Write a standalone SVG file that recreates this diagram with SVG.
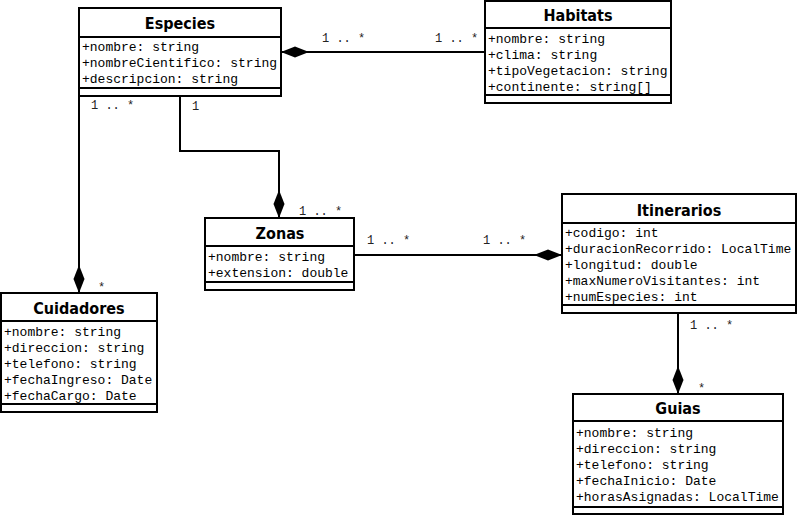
<svg xmlns="http://www.w3.org/2000/svg" width="797" height="516" viewBox="0 0 797 516">
  <style>
    .box { fill: #fff; stroke: #000; stroke-width: 2; }
    .sep { stroke: #000; stroke-width: 2; }
    .title { font-family: "DejaVu Sans Condensed", "DejaVu Sans", sans-serif; font-stretch: condensed; font-weight: bold; font-size: 16px; text-anchor: middle; fill: #000; }
    .attr { font-family: "Liberation Mono", "DejaVu Sans Mono", monospace; font-size: 13px; fill: #000; }
    .mult { font-family: "Liberation Mono", "DejaVu Sans Mono", monospace; font-size: 12px; fill: #222; }
    .link { fill: none; stroke: #000; stroke-width: 2; }
  </style>
  <defs>
    <!-- filled diamond for composition ends -->
    <marker id="diamond" markerUnits="userSpaceOnUse" markerWidth="30" markerHeight="14" refX="29" refY="7" orient="auto">
      <path d="M1,7 L15,1.5 L29,7 L15,12.5 Z" fill="#000"/>
    </marker>
  </defs>

  <g id="connectors">
    <path class="link" d="M485,52 H281" marker-end="url(#diamond)"/>
    <path class="link" d="M79,96 V293" marker-end="url(#diamond)"/>
    <path class="link" d="M180,96 V151 H279 V218" marker-end="url(#diamond)"/>
    <path class="link" d="M354,255 H562" marker-end="url(#diamond)"/>
    <path class="link" d="M678,313 V394" marker-end="url(#diamond)"/>

    <text class="mult" x="322" y="42">1 .. *</text>
    <text class="mult" x="435" y="42">1 .. *</text>
    <text class="mult" x="91" y="109">1 .. *</text>
    <text class="mult" x="192" y="110">1</text>
    <text class="mult" x="299" y="215">1 .. *</text>
    <text class="mult" x="98" y="291">*</text>
    <text class="mult" x="367" y="244">1 .. *</text>
    <text class="mult" x="483" y="244">1 .. *</text>
    <text class="mult" x="690" y="329">1 .. *</text>
    <text class="mult" x="698" y="392">*</text>
  </g>

  <g id="especies">
    <rect class="box" x="79" y="8" width="202" height="88"/>
    <line class="sep" x1="79" y1="37" x2="281" y2="37"/>
    <line class="sep" x1="79" y1="88" x2="281" y2="88"/>
    <text class="title" x="180" y="29">Especies</text>
    <text class="attr" x="82" y="51">+nombre: string</text>
    <text class="attr" x="82" y="67">+nombreCientifico: string</text>
    <text class="attr" x="82" y="83">+descripcion: string</text>
  </g>

  <g id="habitats">
    <rect class="box" x="485" y="1" width="186" height="102"/>
    <line class="sep" x1="485" y1="28" x2="671" y2="28"/>
    <line class="sep" x1="485" y1="95" x2="671" y2="95"/>
    <text class="title" x="578" y="21">Habitats</text>
    <text class="attr" x="488" y="43">+nombre: string</text>
    <text class="attr" x="488" y="59">+clima: string</text>
    <text class="attr" x="488" y="75">+tipoVegetacion: string</text>
    <text class="attr" x="488" y="91">+continente: string[]</text>
  </g>

  <g id="zonas">
    <rect class="box" x="205" y="218" width="149" height="72"/>
    <line class="sep" x1="205" y1="246" x2="354" y2="246"/>
    <line class="sep" x1="205" y1="282" x2="354" y2="282"/>
    <text class="title" x="280" y="239">Zonas</text>
    <text class="attr" x="208" y="261">+nombre: string</text>
    <text class="attr" x="208" y="277">+extension: double</text>
  </g>

  <g id="itinerarios">
    <rect class="box" x="562" y="194" width="234" height="119"/>
    <line class="sep" x1="562" y1="223" x2="796" y2="223"/>
    <line class="sep" x1="562" y1="305" x2="796" y2="305"/>
    <text class="title" x="679" y="216">Itinerarios</text>
    <text class="attr" x="565" y="237">+codigo: int</text>
    <text class="attr" x="565" y="253">+duracionRecorrido: LocalTime</text>
    <text class="attr" x="565" y="269">+longitud: double</text>
    <text class="attr" x="565" y="285">+maxNumeroVisitantes: int</text>
    <text class="attr" x="565" y="301">+numEspecies: int</text>
  </g>

  <g id="cuidadores">
    <rect class="box" x="1" y="293" width="156" height="119"/>
    <line class="sep" x1="1" y1="321" x2="157" y2="321"/>
    <line class="sep" x1="1" y1="404" x2="157" y2="404"/>
    <text class="title" x="79" y="314">Cuidadores</text>
    <text class="attr" x="4" y="336">+nombre: string</text>
    <text class="attr" x="4" y="352">+direccion: string</text>
    <text class="attr" x="4" y="368">+telefono: string</text>
    <text class="attr" x="4" y="384">+fechaIngreso: Date</text>
    <text class="attr" x="4" y="400">+fechaCargo: Date</text>
  </g>

  <g id="guias">
    <rect class="box" x="573" y="394" width="210" height="120"/>
    <line class="sep" x1="573" y1="421" x2="783" y2="421"/>
    <line class="sep" x1="573" y1="507" x2="783" y2="507"/>
    <text class="title" x="678" y="414">Guias</text>
    <text class="attr" x="576" y="437">+nombre: string</text>
    <text class="attr" x="576" y="453">+direccion: string</text>
    <text class="attr" x="576" y="469">+telefono: string</text>
    <text class="attr" x="576" y="485">+fechaInicio: Date</text>
    <text class="attr" x="576" y="501">+horasAsignadas: LocalTime</text>
  </g>
</svg>
